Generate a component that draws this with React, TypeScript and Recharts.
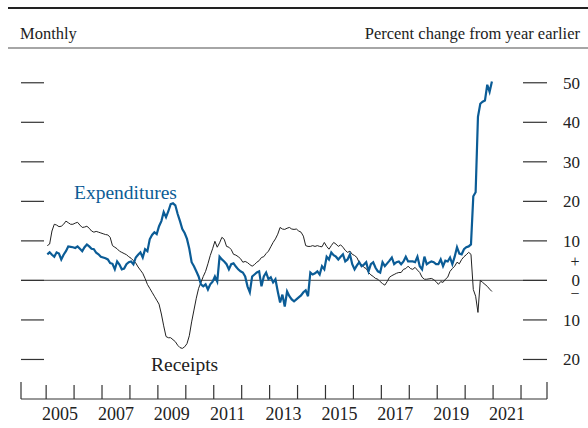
import { Line, LineChart, ReferenceLine, XAxis, YAxis } from "recharts"

const FONT = "'Liberation Serif', 'Times New Roman', serif"
const BLUE = "#0b5c96"
const INK = "#222"

const startYear = 2005

// monthly, percent change from year earlier, Jan 2005 .. Dec 2020
const expenditures = [
  6.6, 7.1, 6.5, 6.0, 7.1, 6.8, 5.3, 6.5, 7.4, 8.6, 8.5, 8.4,
  8.2, 8.6, 8.0, 7.4, 8.4, 9.1, 8.6, 8.0, 7.9, 7.0, 6.6, 6.0,
  5.8, 5.6, 5.3, 4.4, 4.2, 2.8, 4.8, 4.0, 2.8, 3.0, 4.1, 4.6,
  4.8, 4.1, 5.8, 6.5, 7.1, 5.8, 7.9, 7.4, 10.4, 11.5, 12.2, 11.7,
  13.7, 15.0, 17.3, 16.0, 17.5, 19.3, 19.5, 19.0, 16.8, 15.0, 13.0, 12.0,
  10.5, 8.0, 4.6, 3.6, 2.3, 1.0, -1.0, -1.5, -1.0, -2.3, -1.0, -0.3,
  1.0, -0.3, 6.0, 5.3, 4.8, 4.1, 2.8, 4.1, 4.3, 3.5, 2.8, 2.3,
  2.0, 1.0, -1.5, -3.0, 1.0, 1.5, 2.0, 2.3, -1.5, 1.0, 2.0, 0.3,
  0.8, -0.5, 0.3, -2.8, -5.6, -3.6, -6.6, -2.8, -4.0, -4.8, -5.3, -4.8,
  -4.3, -3.8, -3.0, -2.5, -4.0, 2.0, 1.5, 1.8, 2.3, 1.5, 3.6, 2.8,
  6.0, 5.3, 7.1, 6.4, 6.0, 5.3, 6.0, 6.6, 4.8, 5.3, 6.6, 4.1,
  2.8, 3.8, 4.6, 3.6, 4.0, 4.6, 2.3, 4.1, 4.6, 3.2, 2.3, 2.0,
  4.6, 3.6, 4.3, 5.0, 5.8, 4.1, 4.6, 4.8, 4.1, 4.8, 6.0, 4.8,
  4.8, 4.8, 4.6, 6.0, 3.6, 2.8, 6.0, 4.1, 4.5, 4.8, 4.6, 4.1,
  4.1, 5.3, 3.6, 5.0, 4.8, 5.8, 4.1, 6.0, 8.4, 6.8, 6.6, 7.9,
  8.4, 8.6, 9.1, 21.3, 22.3, 41.4, 44.7, 45.2, 45.5, 49.5, 47.7, 50.3,
]

const receipts = [
  8.8, 9.2, 12.5, 14.2, 14.0, 13.6, 13.7, 14.2, 15.0, 14.6, 14.2, 14.2,
  14.5, 14.7, 14.0, 13.4, 13.5, 13.7, 13.2, 12.5, 12.2, 12.4, 12.2, 12.0,
  11.8, 11.6, 11.5, 10.9, 8.8, 8.4, 8.0, 7.4, 7.1, 6.8, 6.5, 6.0,
  5.6, 5.0, 4.4, 3.4, 2.6, 1.8, 0.5, -1.0, -2.0, -3.0, -4.0, -5.0,
  -6.0, -8.5, -11.5, -14.2, -14.5, -14.5, -15.0, -15.5, -16.4, -17.0, -17.2, -16.8,
  -16.0, -14.0, -10.5, -7.5, -4.5, -2.0, -0.5, 1.0, 2.3, 4.2, 6.3, 8.0,
  9.9, 8.4, 9.5, 10.9, 10.4, 8.6, 8.4, 7.8, 6.6, 6.4, 6.0, 5.5,
  4.6, 4.8, 4.5, 4.0, 3.6, 4.0, 4.6, 5.0, 5.8, 6.0, 6.8, 7.4,
  8.5, 9.6, 10.5, 11.7, 13.4, 13.0, 12.9, 13.2, 13.4, 13.0, 12.9, 13.0,
  12.5, 12.2, 11.2, 8.8, 8.6, 8.6, 8.8, 8.6, 8.8, 8.6, 8.5, 9.6,
  8.6, 7.9, 8.8, 9.6, 9.2, 8.6, 9.0, 8.4, 7.6, 7.1, 7.4, 6.6,
  6.3, 5.8, 4.5, 4.0, 3.3, 3.0, 2.0, 1.4, 1.0, 0.5, 0.3, -0.3,
  -0.8, -1.2, -0.3, 0.8, 1.2, 1.5, 1.8, 2.0, 2.0, 2.8, 3.0, 3.6,
  3.0, 2.8, 3.3, 2.6, 2.0, 0.8, 0.3, 0.3, 0.4, 0.5, 0.2, -0.3,
  -1.0, -0.3, -0.5, 0.3, 0.8, 2.3, 3.0, 3.6, 4.6, 4.2, 5.3, 6.0,
  6.5, 7.1, 6.6, -2.3, -4.0, -8.1, 0.0, -0.5, -1.0, -1.5, -2.2, -2.8,
]

const xDomain = [2004.1, 2022.93]
const yearTicks = [2005, 2006, 2007, 2008, 2009, 2010, 2011, 2012, 2013, 2014, 2015, 2016, 2017, 2018, 2019, 2020, 2021, 2022]
const labelYears = [2005, 2007, 2009, 2011, 2013, 2015, 2017, 2019, 2021]
const yDomain = [-30, 55]
const yTicks = [-20, -10, 0, 10, 20, 30, 40, 50]

const data = expenditures.map((v, i) => ({
  t: startYear + Math.floor(i / 12) + ((i % 12) + 0.5) / 12,
  exp: v,
  rec: receipts[i],
}))

const xTicks = [
  xDomain[0],
  ...yearTicks,
  ...labelYears.map((y) => y + 0.5),
  xDomain[1],
].sort((a, b) => a - b)

function XTick(props: any) {
  const { x, y, payload } = props
  const v = payload.value as number
  if (v === xDomain[0] || v === xDomain[1]) {
    return <line x1={x} x2={x} y1={y} y2={y - 17} stroke="#333" strokeWidth={1.2} />
  }
  if (Number.isInteger(v)) {
    return <line x1={x} x2={x} y1={y} y2={y - 14} stroke="#333" strokeWidth={1.2} />
  }
  return (
    <text x={x} y={y + 21} textAnchor="middle" fontFamily={FONT} fontSize={18} fill={INK}>
      {Math.floor(v)}
    </text>
  )
}

function LeftTick(props: any) {
  const { x, y } = props
  return <line x1={x} x2={x + 23} y1={y} y2={y} stroke="#333" strokeWidth={1.2} />
}

function RightTick(props: any) {
  const { x, y, payload } = props
  const v = payload.value as number
  return (
    <g>
      <line x1={x - 24} x2={x} y1={y} y2={y} stroke="#333" strokeWidth={1.2} />
      <text x={x + 33} y={y + 6} textAnchor="end" fontFamily={FONT} fontSize={17} fill={INK}>
        {Math.abs(v)}
      </text>
      {v === 0 && (
        <>
          <text x={x + 28} y={y - 13} textAnchor="middle" fontFamily={FONT} fontSize={16} fill={INK}>+</text>
          <text x={x + 28} y={y + 19} textAnchor="middle" fontFamily={FONT} fontSize={16} fill={INK}>−</text>
        </>
      )}
    </g>
  )
}

export default function App() {
  return (
    <div style={{ position: "absolute", left: 0, top: 0, width: 588, height: 428, background: "#fff" }}>
      <LineChart width={588} height={428} data={data} margin={{ top: 63, right: 0, bottom: 0, left: 20 }}>
        <XAxis
          dataKey="t"
          type="number"
          domain={xDomain}
          ticks={xTicks}
          interval={0}
          height={29}
          tickSize={0}
          tickMargin={0}
          tickLine={false}
          axisLine={{ stroke: "#333", strokeWidth: 1.2 }}
          tick={<XTick />}
          allowDataOverflow
        />
        <YAxis
          yAxisId="l"
          width={1}
          domain={yDomain}
          ticks={yTicks}
          interval={0}
          tickSize={0}
          tickMargin={0}
          tickLine={false}
          axisLine={false}
          tick={<LeftTick />}
          allowDataOverflow
        />
        <YAxis
          yAxisId="r"
          orientation="right"
          width={41}
          domain={yDomain}
          ticks={yTicks}
          interval={0}
          tickSize={0}
          tickMargin={0}
          tickLine={false}
          axisLine={false}
          tick={<RightTick />}
          allowDataOverflow
        />
        <ReferenceLine yAxisId="l" y={0} stroke="#666" strokeWidth={1.4} />
        <Line
          yAxisId="l"
          type="linear"
          dataKey="rec"
          stroke={INK}
          strokeWidth={1}
          dot={false}
          isAnimationActive={false}
        />
        <Line
          yAxisId="l"
          type="linear"
          dataKey="exp"
          stroke={BLUE}
          strokeWidth={2.2}
          dot={false}
          isAnimationActive={false}
        />
      </LineChart>
      <svg
        width={588}
        height={428}
        style={{ position: "absolute", left: 0, top: 0, pointerEvents: "none" }}
        fontFamily={FONT}
      >
        <line x1={8} x2={588} y1={8} y2={8} stroke={INK} strokeWidth={2} />
        <line x1={8} x2={588} y1={48} y2={48} stroke="#888" strokeWidth={1.5} />
        <text x={20} y={39} fontSize={16.5} fill={INK}>Monthly</text>
        <text x={580} y={39} fontSize={16.5} fill={INK} textAnchor="end">
          Percent change from year earlier
        </text>
        <text x={74} y={199} fontSize={19.5} fill={BLUE}>Expenditures</text>
        <text x={151} y={371} fontSize={19.5} fill={INK}>Receipts</text>
      </svg>
    </div>
  )
}
